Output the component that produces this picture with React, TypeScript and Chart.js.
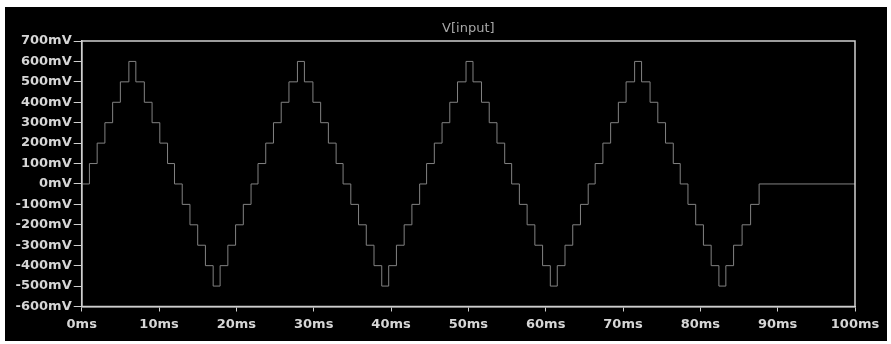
import React, { useEffect, useRef } from "react";
import { Chart, registerables } from "chart.js";

Chart.register(...registerables);

const TITLE = "V[input]";

// axis ranges (ms / mV)
const X_MIN_MS = 0;
const X_MAX_MS = 100;
const X_STEP_MS = 10;
const Y_MIN_MV = -600;
const Y_MAX_MV = 700;
const Y_STEP_MV = 100;

// transition times (ms) of the stepped signal, and the level (mV) reached at each
const stepTimesMs = [
  0,
  1.0, 2.0, 3.0, 4.0, 5.0, 6.1, 7.0, 8.1, 9.1, 10.1, 11.1, 12.0, 13.0, 14.0, 15.0, 16.0, 17.0, 17.9, 18.9, 19.9, 20.9, 21.9,
  22.8, 23.8, 24.8, 25.8, 26.8, 27.9, 28.8, 29.9, 30.9, 31.9, 32.9, 33.8, 34.8, 35.8, 36.8, 37.8, 38.8, 39.7, 40.7, 41.7, 42.7, 43.7,
  44.6, 45.6, 46.6, 47.6, 48.6, 49.7, 50.6, 51.7, 52.7, 53.7, 54.7, 55.6, 56.6, 57.6, 58.6, 59.6, 60.6, 61.5, 62.5, 63.5, 64.5, 65.5,
  66.4, 67.4, 68.4, 69.4, 70.4, 71.5, 72.4, 73.5, 74.5, 75.5, 76.5, 77.4, 78.4, 79.4, 80.4, 81.4, 82.4, 83.3, 84.3, 85.4, 86.5, 87.6,
  100,
];
const stepValuesMv = [
  0,
  100, 200, 300, 400, 500, 600, 500, 400, 300, 200, 100, 0, -100, -200, -300, -400, -500, -400, -300, -200, -100, 0,
  100, 200, 300, 400, 500, 600, 500, 400, 300, 200, 100, 0, -100, -200, -300, -400, -500, -400, -300, -200, -100, 0,
  100, 200, 300, 400, 500, 600, 500, 400, 300, 200, 100, 0, -100, -200, -300, -400, -500, -400, -300, -200, -100, 0,
  100, 200, 300, 400, 500, 600, 500, 400, 300, 200, 100, 0, -100, -200, -300, -400, -500, -400, -300, -200, -100, 0,
  0,
];

const BG = "#000000";
const FRAME_COLOR = "#cfcfcf";
const LABEL_COLOR = "#d6d6d6";
const TRACE_COLOR = "#828282";
const TITLE_COLOR = "#a8a8a8";
const FONT_FAMILY = "'DejaVu Sans', sans-serif";

const framePlugin = {
  id: "frameAndTitle",
  afterDraw(chart: any) {
    const { ctx, chartArea: a } = chart;
    ctx.save();
    ctx.strokeStyle = FRAME_COLOR;
    ctx.lineWidth = 1.5;
    ctx.strokeRect(a.left, a.top, a.right - a.left, a.bottom - a.top);
    ctx.fillStyle = TITLE_COLOR;
    ctx.font = `13px ${FONT_FAMILY}`;
    ctx.textAlign = "center";
    ctx.textBaseline = "bottom";
    ctx.fillText(TITLE, (a.left + a.right) / 2, a.top - 6);
    ctx.restore();
  },
};

export default function App() {
  const ref = useRef<HTMLCanvasElement | null>(null);

  useEffect(() => {
    if (!ref.current) return;
    const data = stepTimesMs.map((t, i) => ({ x: t, y: stepValuesMv[i] }));
    const chart = new Chart(ref.current, {
      type: "line",
      data: {
        datasets: [
          {
            label: TITLE,
            data,
            stepped: "before",
            borderColor: TRACE_COLOR,
            borderWidth: 1,
            pointRadius: 0,
            fill: false,
          },
        ],
      },
      options: {
        animation: false,
        responsive: false,
        devicePixelRatio: 1,
        layout: { padding: { top: 34, right: 32, left: 0, bottom: 0 } },
        plugins: { legend: { display: false }, tooltip: { enabled: false }, title: { display: false } },
        scales: {
          x: {
            type: "linear",
            min: X_MIN_MS,
            max: X_MAX_MS,
            afterFit: (s: any) => {
              s.height = 34.5;
            },
            ticks: {
              stepSize: X_STEP_MS,
              autoSkip: false,
              maxRotation: 0,
              padding: 5,
              color: LABEL_COLOR,
              font: { family: FONT_FAMILY, size: 13, weight: "bold" },
              callback: (v: any) => `${v}ms`,
            },
            grid: { drawOnChartArea: false, drawTicks: true, tickLength: 5, color: FRAME_COLOR, lineWidth: 1 },
            border: { display: true, color: FRAME_COLOR, width: 1.5 },
          },
          y: {
            type: "linear",
            min: Y_MIN_MV,
            max: Y_MAX_MV,
            afterFit: (s: any) => {
              s.width = 76.7;
            },
            ticks: {
              stepSize: Y_STEP_MV,
              autoSkip: false,
              padding: 2,
              color: LABEL_COLOR,
              font: { family: FONT_FAMILY, size: 13, weight: "bold" },
              callback: (v: any) => `${v}mV`,
            },
            grid: { drawOnChartArea: false, drawTicks: true, tickLength: 8, color: FRAME_COLOR, lineWidth: 1 },
            border: { display: true, color: FRAME_COLOR, width: 1.5 },
          },
        },
      },
      plugins: [framePlugin],
    } as any);
    return () => chart.destroy();
  }, []);

  return (
    <div style={{ position: "absolute", left: 0, top: 0, width: 891, height: 344, background: "#ffffff" }}>
      <canvas
        ref={ref}
        width={882}
        height={334}
        style={{ position: "absolute", left: 5, top: 7, width: 882, height: 334, background: BG }}
      />
    </div>
  );
}
